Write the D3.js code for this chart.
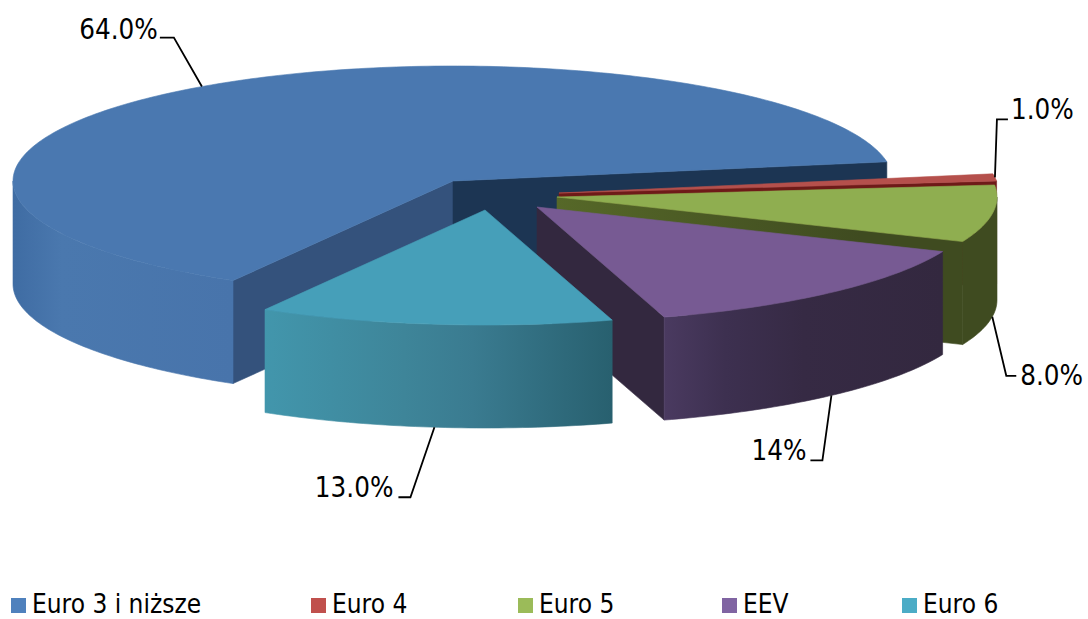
<!DOCTYPE html>
<html><head><meta charset="utf-8">
<script src="https://cdn.jsdelivr.net/npm/d3@7/dist/d3.min.js"></script>
<style>html,body{margin:0;padding:0;background:#fff}svg{display:block}
text{font-family:"DejaVu Sans Condensed","DejaVu Sans",sans-serif;fill:#000}</style>
</head><body><svg id="c" width="1088" height="619"></svg>
<script>
const categories = ["Euro 3 i niższe","Euro 4","Euro 5","EEV","Euro 6"];
const shares = [64,1,8,14,13];
const valueLabels = ["64.0%","1.0%","8.0%","14%","13.0%"];
const topColors = ["#4a78b0","#b5504c","#8fae50","#775a93","#469fb9"];
const swatchColors = ["#4f81bd","#c0504d","#9bbb59","#8064a2","#4bacc6"];
const startFace = ["#34527c","#7a1f1c","#4e5f22","#33283f","#2a6273"];
const endStops = [
 [["#1c3553",0],["#1c3553",1]],
 [["#6e1a18",0],["#6e1a18",1]],
 [["#566828",0],["#3f4b20",.75],["#3f4b20",1]],
 [["#33283f",0],["#33283f",1]],
 [["#2a6273",0],["#2a6273",1]]
];
const wallStops = [
 [["#3f6ca3",0],["#4a78ae",.22],["#4874ab",1]],
 [["#7a1f1c",0],["#7a1f1c",1]],
 [["#3f4b20",0],["#3f4b20",1]],
 [["#4a3a60",0],["#3d3050",.22],["#362a44",.5],["#33283f",1]],
 [["#4296ac",0],["#3e8599",.4],["#3a7b90",.6],["#28606f",1]]
];
// layout
const RX=440, RY=115, DEPTH=103;
const centers=[[453,181],[559,193],[557,197],[537,207],[485,210]];
const legendX=[11,311,518,722,902];
const labelLayout=[
 {ex:-28,ey:-49,run:-14,gap:2,dy:1,bottom:false},
 {ex:2,ey:-58,run:11,gap:3,dy:0,bottom:false},
 {ex:14,ey:59,run:10,gap:4,dy:9,bottom:true},
 {ex:-9,ey:65,run:-12,gap:4,dy:0,bottom:true},
 {ex:-24,ey:70,run:-12,gap:5,dy:0,bottom:true}
];
const rad=d=>d*Math.PI/180;
const svg=d3.select("#c");
const defs=svg.append("defs");
const colorOf=d3.scaleOrdinal(categories,topColors);
const pie=d3.pie().sort(null).startAngle(rad(210)).endAngle(rad(210)+2*Math.PI);
const arcs=pie(shares);
const px=(c,a)=>[c[0]+RX*Math.sin(a),c[1]-RY*Math.cos(a)];
const line=d3.line();
function samples(a0,a1){const n=Math.max(2,Math.ceil((a1-a0)/rad(1)));return d3.range(n+1).map(i=>a0+(a1-a0)*i/n);}
function gradient(id,x0,x1,stops){
  const grad=defs.append("linearGradient").attr("id",id).attr("gradientUnits","userSpaceOnUse")
    .attr("x1",x0).attr("x2",x1).attr("y1",0).attr("y2",0);
  stops.forEach(st=>grad.append("stop").attr("offset",st[1]).attr("stop-color",st[0]));
  return `url(#${id})`;
}
const gTop=svg.append("g");
arcs.forEach((d,i)=>{
  const c=centers[i], g=gTop.append("g");
  const a0=d.startAngle,a1=d.endAngle;
  const drop=p=>[p[0],p[1]+DEPTH];
  const paint=(dd,col)=>g.append("path").attr("d",dd).attr("fill",col).attr("stroke",col).attr("stroke-width",0.6).attr("stroke-linejoin","round");
  if(-Math.cos(a0-Math.PI/2)>0){const p=px(c,a0);paint(line([c,p,drop(p),drop(c)])+"Z",startFace[i]);}
  if(-Math.cos(a1+Math.PI/2)>0){const p=px(c,a1);
    paint(line([c,p,drop(p),drop(c)])+"Z",gradient("e"+i,Math.min(c[0],p[0]),Math.max(c[0],p[0]),endStops[i]));}
  [[rad(90),rad(270)],[rad(450),rad(630)]].forEach(([f0,f1])=>{
    const s=Math.max(a0,f0),e=Math.min(a1,f1);
    if(e<=s) return;
    const top=samples(s,e).map(a=>px(c,a));
    const xs=top.map(p=>p[0]);
    paint(line(top.concat(top.map(drop).reverse()))+"Z",gradient("w"+i,d3.min(xs),d3.max(xs),wallStops[i]));
  });
  paint(line([c].concat(samples(a0,a1).map(a=>px(c,a))))+"Z",colorOf(categories[i]));
});
arcs.forEach((d,i)=>{
  const L=labelLayout[i], mid=(d.startAngle+d.endAngle)/2;
  let p=px(centers[i],mid); if(L.bottom) p=[p[0],p[1]+DEPTH];
  const el=[p[0]+L.ex,p[1]+L.ey], end=[el[0]+L.run,el[1]];
  svg.append("path").attr("d",line([p,el,end])).attr("fill","none").attr("stroke","#000").attr("stroke-width",1.8);
  const right=L.run<0;
  svg.append("text").text(valueLabels[i]).attr("font-size",27.5)
    .attr("x",end[0]+(right?-L.gap:L.gap)).attr("y",end[1]+L.dy)
    .attr("text-anchor",right?"end":"start");
});
categories.forEach((n,i)=>{
  svg.append("rect").attr("x",legendX[i]).attr("y",598).attr("width",15).attr("height",15).attr("fill",swatchColors[i]);
  svg.append("text").text(n).attr("x",legendX[i]+21).attr("y",612.5).attr("font-size",26);
});
</script></body></html>
